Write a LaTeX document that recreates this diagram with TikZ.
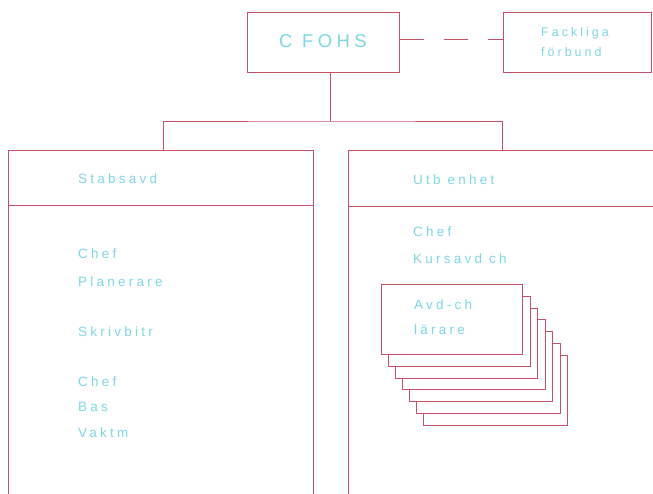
\documentclass[tikz,border=0pt]{standalone}
\usepackage{fontspec}
\setmainfont{Liberation Sans}[LetterSpace=24]
\definecolor{lin}{HTML}{C8506A}
\definecolor{txt}{HTML}{7ED8E4}
\begin{document}
\begin{tikzpicture}[x=1pt,y=1pt,
  box/.style={draw=lin,line width=0.9pt,fill=white,inner sep=0pt,anchor=north west},
  lbl/.style={text=txt,font=\fontsize{13.5}{14}\selectfont,anchor=west,inner sep=0pt},
  big/.style={text=txt,font=\fontsize{18.5}{19}\selectfont,inner sep=0pt},
  con/.style={draw=lin,line width=0.9pt}]
\useasboundingbox (0,0) rectangle (653,-493);
\clip (0,0) rectangle (653,-493);
% top boxes
\node[box,minimum width=152pt,minimum height=60pt] (cfohs) at (247,-12) {};
\node[big] (cfohst) at (323,-41) {C FOHS};
\node[box,minimum width=148pt,minimum height=60pt] (fack) at (503,-12) {};
\node[lbl,font=\fontsize{12.5}{13}\selectfont] (fack1) at (541,-33) {Fackliga};
\node[lbl,font=\fontsize{12.5}{13}\selectfont] (fack2) at (541,-52) {förbund};
\draw[con,dash pattern=on 24pt off 20pt] (cfohs.east|-0,-39) -- (fack.west|-0,-39);
% lower boxes
\node[box,minimum width=305pt,minimum height=360pt] (stab) at (8,-150) {};
\node[box,minimum width=320pt,minimum height=360pt] (utb) at (348,-150) {};
\draw[con] (stab.west|-0,-205) -- (stab.east|-0,-205);
\draw[con] (utb.west|-0,-206) -- (utb.east|-0,-206);
% tree connectors
\coordinate (jn) at (330,-121);
\draw[con] (330,-72) coordinate (cs) -- (jn);
\draw[con] (163,-150) coordinate (sa) |- (jn) -| (502,-150) coordinate (ua);
% left texts
\node[lbl] (t1) at (78,-179) {Stabsavd};
\node[lbl] (t2) at (78,-254) {Chef};
\node[lbl] (t3) at (78,-282) {Planerare};
\node[lbl] (t4) at (78,-332) {Skrivbitr};
\node[lbl] (t5) at (78,-382) {Chef};
\node[lbl] (t6) at (78,-407) {Bas};
\node[lbl] (t7) at (78,-433) {Vaktm};
% right texts
\node[lbl] (r1) at (413,-180) {Utb enhet};
\node[lbl] (r2) at (413,-232) {Chef};
\node[lbl] (r3) at (413,-259) {Kursavd ch};
% stacked boxes
\foreach \i in {6,5,4,3,2,1} {
  \node[box,line width=0.6pt,minimum width={141pt+0.5pt*\i},minimum height=70pt] (s\i) at ({381+7*\i},{-284-11.8*\i}) {};
}
\node[box,line width=0.6pt,minimum width=141pt,minimum height=70pt] (s0) at (381,-284) {};
\node[lbl] (a1) at (414,-305) {Avd-ch};
\node[lbl] (a2) at (414,-330) {lärare};
\end{tikzpicture}
\end{document}
